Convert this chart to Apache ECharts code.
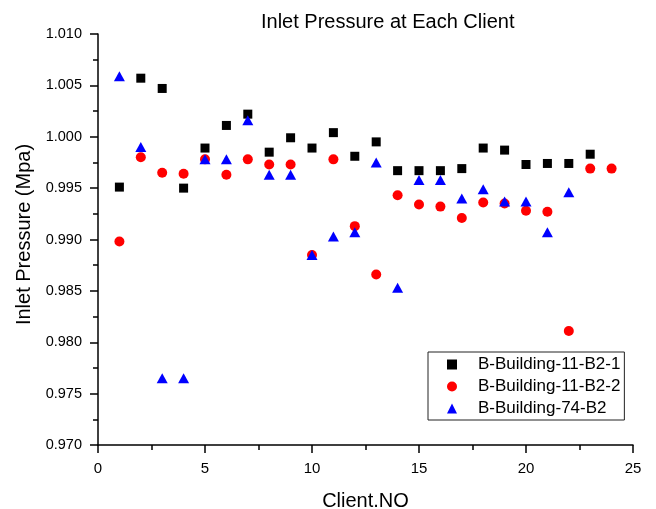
<!DOCTYPE html>
<html>
    <head>
        <meta charset="utf-8">
        <script src="https://cdn.jsdelivr.net/npm/echarts@6/dist/echarts.min.js"></script>
        <title>Inlet Pressure at Each Client</title>
        <style>
            body { margin: 0; background: #fff; }
            #chart { width: 656px; height: 509px; }
        </style>
    </head>
    <body>
        <div id="chart"></div>
        <script>
            // data
            var names = ['B-Building-11-B2-1', 'B-Building-11-B2-2', 'B-Building-74-B2'];
            var xTicks = [0, 5, 10, 15, 20, 25];
            var yTicks = [0.970, 0.975, 0.980, 0.985, 0.990, 0.995, 1.000, 1.005, 1.010];

            var clients1 = [1,2,3,4,5,6,7,8,9,10,11,12,13,14,15,16,17,18,19,20,21,22,23];
            var b11_1 = [0.9951,1.0057,1.0047,0.9950,0.9989,1.0011,1.0022,0.9985,0.9999,0.9989,1.0004,0.9981,
                         0.9995,0.9967,0.9967,0.9967,0.9969,0.9989,0.9987,0.9973,0.9974,0.9974,0.9983];

            var clients2 = [1,2,3,4,5,6,7,8,9,10,11,12,13,14,15,16,17,18,19,20,21,22,23,24];
            var b11_2 = [0.9898,0.9980,0.9965,0.9964,0.9978,0.9963,0.9978,0.9973,0.9973,0.9885,0.9978,0.9913,
                         0.9866,0.9943,0.9934,0.9932,0.9921,0.9936,0.9935,0.9928,0.9927,0.9811,0.9969,0.9969];

            var clients3 = [1,2,3,4,5,6,7,8,9,10,11,12,13,14,15,16,17,18,19,20,21,22];
            var b74 = [1.0059,0.9990,0.9765,0.9765,0.9978,0.9978,1.0016,0.9963,0.9963,0.9885,0.9903,0.9907,
                       0.9975,0.9853,0.9958,0.9958,0.9940,0.9949,0.9937,0.9937,0.9907,0.9946];

            function pairs(xs, ys) {
                var out = [];
                for (var i = 0; i < xs.length; i++) out.push([xs[i], ys[i]]);
                return out;
            }

            var font = 'Liberation Sans, Arial, sans-serif';
            var axisLine = { lineStyle: { color: '#000', width: 1.5 } };

            var chart = echarts.init(document.getElementById('chart'));
            chart.setOption({
                animation: false,
                textStyle: { fontFamily: font, color: '#000' },
                title: {
                    text: 'Inlet Pressure at Each Client',
                    left: 261, top: 12, padding: 0,
                    textStyle: { fontFamily: font, fontSize: 20, fontWeight: 'normal', color: '#000' }
                },
                grid: { left: 98, right: 23, top: 34, bottom: 64, outerBoundsMode: 'none', containLabel: false },
                legend: {
                    data: names,
                    orient: 'vertical',
                    left: 428, top: 352,
                    padding: [4, 4, 3, 19],
                    itemWidth: 10, itemHeight: 10, itemGap: 5,
                    borderColor: '#222', borderWidth: 1,
                    textStyle: { fontFamily: font, fontSize: 17, color: '#000', padding: [0, 0, 0, 16] }
                },
                xAxis: {
                    type: 'value',
                    min: xTicks[0], max: xTicks[xTicks.length - 1], interval: 5,
                    name: 'Client.NO', nameLocation: 'middle', nameGap: 46,
                    nameTextStyle: { fontFamily: font, fontSize: 20, color: '#000' },
                    axisLine: axisLine,
                    axisTick: { length: 8, lineStyle: { color: '#000', width: 1.5 } },
                    minorTick: { show: true, splitNumber: 2, length: 5, lineStyle: { color: '#000', width: 1.5 } },
                    splitLine: { show: false },
                    axisLabel: { fontFamily: font, fontSize: 15, color: '#000', margin: 16 }
                },
                yAxis: {
                    type: 'value',
                    min: yTicks[0], max: yTicks[yTicks.length - 1], interval: 0.005,
                    name: 'Inlet Pressure (Mpa)', nameLocation: 'middle', nameGap: 58,
                    nameTextStyle: { fontFamily: font, fontSize: 20, color: '#000', padding: [0, 0, 0, 10] },
                    axisLine: axisLine,
                    axisTick: { length: 8, lineStyle: { color: '#000', width: 1.5 } },
                    minorTick: { show: true, splitNumber: 2, length: 5, lineStyle: { color: '#000', width: 1.5 } },
                    splitLine: { show: false },
                    axisLabel: {
                        fontFamily: font, fontSize: 14.5, color: '#000', margin: 16,
                        formatter: function (v) { return v.toFixed(3); }
                    }
                },
                series: [
                    {
                        name: names[0], type: 'scatter', symbol: 'rect', symbolSize: 9,
                        itemStyle: { color: '#000', opacity: 1 },
                        data: pairs(clients1, b11_1)
                    },
                    {
                        name: names[1], type: 'scatter', symbol: 'circle', symbolSize: 10,
                        itemStyle: { color: '#ff0000', opacity: 1 },
                        data: pairs(clients2, b11_2)
                    },
                    {
                        name: names[2], type: 'scatter', symbol: 'triangle', symbolSize: [11, 10],
                        itemStyle: { color: '#0000ff', opacity: 1 },
                        data: pairs(clients3, b74)
                    }
                ]
            });
        </script>
    </body>
</html>
